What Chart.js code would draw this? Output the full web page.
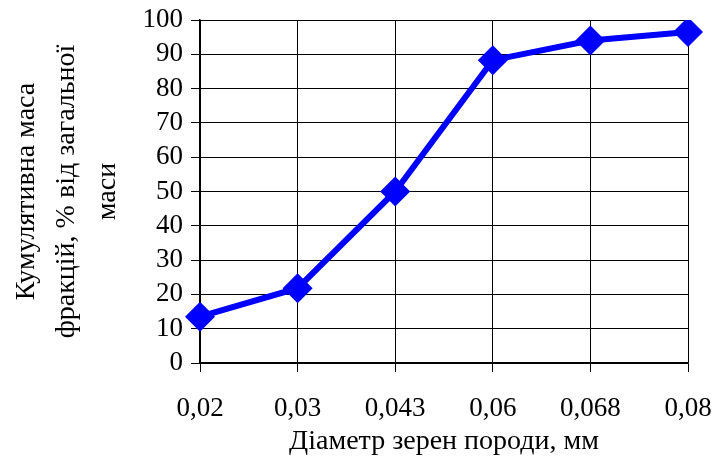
<!DOCTYPE html>
<html><head><meta charset="utf-8">
<script src="https://cdn.jsdelivr.net/npm/chart.js@4/dist/chart.umd.min.js"></script>
<style>html,body{margin:0;padding:0;background:#fff}</style>
</head><body>
<canvas id="c" width="713" height="460"></canvas>
<script>
const categories = ['0,02', '0,03', '0,043', '0,06', '0,068', '0,08'];
const cumulativeMass = [13.5, 21.8, 50, 88.3, 94, 96.5];
const yTitle = ['Кумулятивна маса', 'фракцій, % від загальної', 'маси'];
const xTitle = 'Діаметр зерен породи, мм';

const FONT = '"Liberation Serif", "Times New Roman", serif';
new Chart(document.getElementById('c'), {
  type: 'line',
  data: {
    labels: categories,
    datasets: [{
      data: cumulativeMass,
      borderColor: '#0000FF',
      backgroundColor: '#0000FF',
      borderWidth: 6,
      pointStyle: 'rectRot',
      pointRadius: 15,
      pointHoverRadius: 15,
      pointBorderWidth: 0,
      tension: 0
    }]
  },
  options: {
    responsive: false,
    animation: false,
    devicePixelRatio: 1,
    plugins: { legend: { display: false }, tooltip: { enabled: false } },
    layout: { padding: { top: 20, right: 25, left: 6, bottom: 0 } },
    scales: {
      x: {
        type: 'category',
        offset: false,
        grid: { color: '#000', lineWidth: 1, tickLength: 9, drawTicks: true },
        border: { color: '#000', width: 1.5 },
        ticks: { color: '#000', font: { family: FONT, size: 27 }, padding: 21, maxRotation: 0, autoSkip: false },
        title: { display: true, text: xTitle, color: '#000', font: { family: FONT, size: 28 }, padding: { top: 0, bottom: 2 } },
        afterFit: s => { s.height = 97; s.paddingLeft = 0; s.paddingRight = 0; }
      },
      y: {
        min: 0, max: 100,
        grid: { color: '#000', lineWidth: 1, tickLength: 9, drawTicks: true },
        border: { color: '#000', width: 1.5 },
        ticks: { stepSize: 10, autoSkip: false, color: '#000', font: { family: FONT, size: 27 }, padding: 8 },
        title: { display: true, text: yTitle, color: '#000', font: { family: FONT, size: 28, lineHeight: 1.45 }, padding: { top: 0, bottom: 14 } },
        afterFit: s => { s.width = 194; s.paddingTop = 0; s.paddingBottom = 0; }
      }
    }
  }
});
</script>
</body></html>
